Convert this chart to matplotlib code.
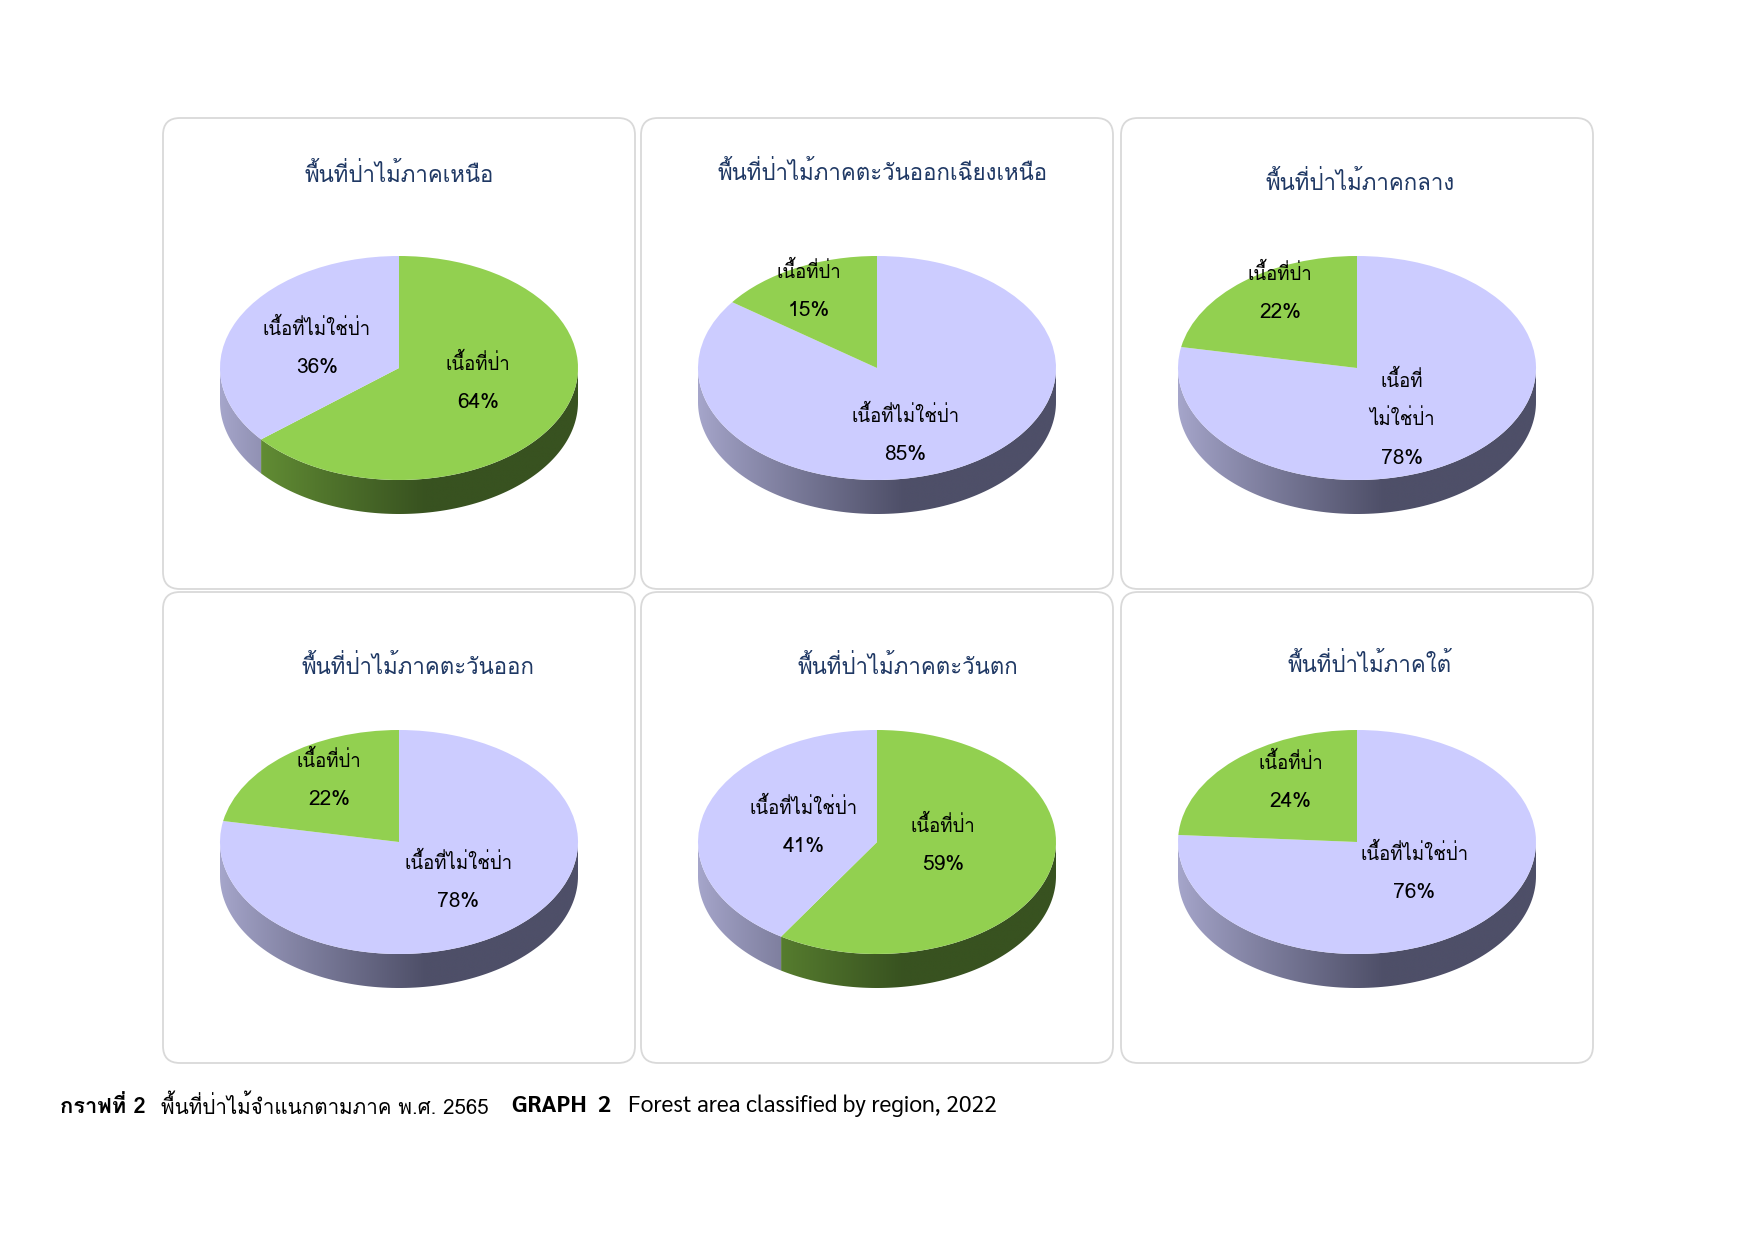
import numpy as np
import matplotlib
matplotlib.use("Agg")
import matplotlib.pyplot as plt
from matplotlib.patches import FancyBboxPatch, Polygon

# ---------------- data ----------------
titles = ["พื้นที่ป่าไม้ภาคเหนือ", "พื้นที่ป่าไม้ภาคตะวันออกเฉียงเหนือ", "พื้นที่ป่าไม้ภาคกลาง",
          "พื้นที่ป่าไม้ภาคตะวันออก", "พื้นที่ป่าไม้ภาคตะวันตก", "พื้นที่ป่าไม้ภาคใต้"]
categories = ["เนื้อที่ป่า", "เนื้อที่ไม่ใช่ป่า"]
forest_pct = [64, 15, 22, 22, 59, 24]
nonforest_pct = [36, 85, 78, 78, 41, 76]
caption_th_bold = "กราฟที่ 2"
caption_th = "พื้นที่ป่าไม้จำแนกตามภาค พ.ศ. 2565"
caption_en_bold = "GRAPH  2"
caption_en = "Forest area classified by region, 2022"

# ---------------- fonts ----------------
THAI_FAM = ["Loma", "DejaVu Sans"]
LATIN_FAM = ["Sarabun", "Loma", "DejaVu Sans"]
plt.rcParams["font.family"] = THAI_FAM

# ---------------- layout ----------------
W, H = 1755, 1241
fig = plt.figure(figsize=(W / 100, H / 100), dpi=100)
fig.patch.set_facecolor("white")
renderer = fig.canvas.get_renderer()

col_x = [163, 641, 1121]
row_y = [118, 592]
PW, PH = 472, 471
RX, RY, DEPTH = 179, 112, 34
CY_OFF = 250
title_off = [(0, 57), (6, 55), (3, 65), (19, 75), (31, 75), (13, 73)]
TITLE_REF_W = 331          # pixel width of the longest title in the reference
LABEL_REF_W = 108          # pixel width of "เนื้อที่ไม่ใช่ป่า" in the reference
PCT_REF_W = 42             # pixel width of "64%" in the reference
label_pos = [[(0.44, -0.13), (-0.46, 0.18)],
             [(-0.38, 0.69), (0.16, -0.60)],
             [(-0.43, 0.67), (0.25, -0.46)],
             [(-0.39, 0.55), (0.33, -0.36)],
             [(0.37, -0.03), (-0.41, 0.13)],
             [(-0.37, 0.54), (0.32, -0.28)]]
wrap_label = {(2, 1): "เนื้อที่\nไม่ใช่ป่า"}
LINE_PX = 39

top_colors = ["#92D050", "#CCCCFF"]
side_light = [np.array([0x6E, 0x9E, 0x3A]) / 255, np.array([0xA6, 0xA6, 0xCB]) / 255]
side_dark = [np.array([0x38, 0x52, 0x20]) / 255, np.array([0x4E, 0x4F, 0x68]) / 255]
TITLE_COLOR = "#1F3864"

bg = fig.add_axes([0, 0, 1, 1])
bg.set_xlim(0, W)
bg.set_ylim(H, 0)
bg.axis("off")


def fit_size(s, target, base=15, **kw):
    t = bg.text(0, 0, s, fontsize=base, **kw)
    w = t.get_window_extent(renderer).width
    t.remove()
    return base * target / w


TITLE_FS = fit_size(titles[1], TITLE_REF_W)
LABEL_FS = fit_size(categories[1], LABEL_REF_W)
PCT_FS = fit_size(f"{forest_pct[0]}%", PCT_REF_W)

for i in range(6):
    r, c = divmod(i, 3)
    x0, y0 = col_x[c], row_y[r]
    bg.add_patch(FancyBboxPatch((x0, y0), PW, PH, boxstyle="round,pad=0,rounding_size=17",
                                fc="white", ec="#D9D9D9", lw=1.3))
    cx = x0 + PW / 2
    cy = y0 + CY_OFF
    bg.text(cx + title_off[i][0], y0 + title_off[i][1], titles[i],
            ha="center", va="center", fontsize=TITLE_FS, color=TITLE_COLOR)

    m = 1.3
    d = DEPTH / RY
    left = (cx - m * RX) / W
    bottom = (H - (cy + (m + d) * RY)) / H
    ax = fig.add_axes([left, bottom, 2 * m * RX / W, (2 * m + d) * RY / H])
    vals = [forest_pct[i], nonforest_pct[i]]
    order = sorted(range(2), key=lambda k: -vals[k])
    wedges, _ = ax.pie([vals[k] for k in order], colors=[top_colors[k] for k in order],
                       startangle=90, counterclock=False,
                       wedgeprops=dict(linewidth=0), radius=1)
    ax.set_aspect("auto")
    ax.axis("off")
    for w, k in zip(wedges, order):
        w.set_zorder(3)
        lo, hi = max(w.theta1, -180), min(w.theta2, 0)
        if hi > lo:
            t = np.radians(np.linspace(lo, hi, 120))
            xs, ys = np.cos(t), np.sin(t)
            pts = np.vstack([np.column_stack([xs, ys]),
                             np.column_stack([xs[::-1], ys[::-1] - d])])
            poly = Polygon(pts, closed=True, fc="none", ec="none", zorder=2)
            ax.add_patch(poly)
            gx = np.linspace(-1, 1, 400)
            f = np.clip((gx + 1) / 1.15, 0, 1) ** 0.9
            grad = side_light[k][None, :] * (1 - f[:, None]) + side_dark[k][None, :] * f[:, None]
            img = ax.imshow(grad[None, :, :], extent=(-1, 1, -1 - d, 0.05), aspect="auto",
                            zorder=2, interpolation="bilinear")
            img.set_clip_path(poly)
        lx, ly = label_pos[i][k]
        txt = wrap_label.get((i, k), categories[k])
        lines = txt.split("\n") + [f"{vals[k]}%"]
        n = len(lines)
        for j, s in enumerate(lines):
            off = ((n - 1) / 2 - j) * LINE_PX / RY
            fs = PCT_FS if j == n - 1 else LABEL_FS
            ax.text(lx, ly + off, s, ha="center", va="center", fontsize=fs,
                    color="black", zorder=5)
    ax.set_xlim(-m, m)
    ax.set_ylim(-m - d, m)

# caption: (text, weight, left px, reference width px, family)
ycap = 1106
cap_pieces = [(caption_th_bold, "bold", 60, 86, THAI_FAM),
              (caption_th, "normal", 161, 328, THAI_FAM),
              (caption_en_bold, "bold", 512, 99, LATIN_FAM),
              (caption_en, "normal", 628, 370, LATIN_FAM)]
for s, wt, xl, wref, fam in cap_pieces:
    fs = fit_size(s, wref, fontweight=wt, family=fam)
    bg.text(xl, ycap, s, ha="left", va="center", fontsize=fs, fontweight=wt,
            color="black", family=fam)

fig.savefig("out.png", dpi=100, facecolor="white")
